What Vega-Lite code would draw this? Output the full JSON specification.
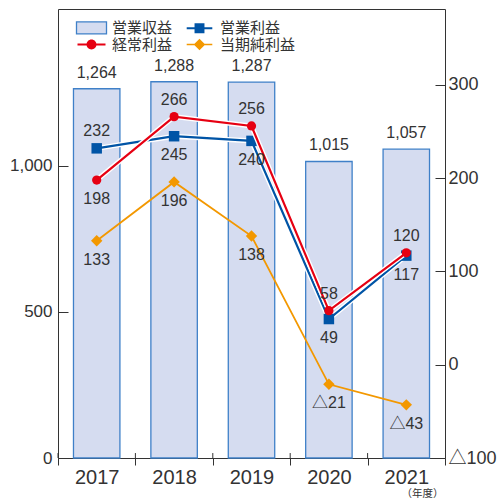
{
  "$schema": "https://vega.github.io/schema/vega-lite/v6.json",
  "width": 387,
  "height": 449,
  "autosize": {"type": "none"},
  "padding": {"left": 58, "top": 9, "right": 54, "bottom": 40},
  "config": {
    "view": {"stroke": "#333333", "strokeWidth": 1},
    "font": "Liberation Sans, Noto Sans CJK JP, sans-serif",
    "axis": {"grid": false, "domain": false, "labelColor": "#333333", "tickColor": "#333333", "title": null}
  },
  "data": {
    "values": [
      {"year": "2017", "series": "営業収益", "value": 1264},
      {"year": "2018", "series": "営業収益", "value": 1288},
      {"year": "2019", "series": "営業収益", "value": 1287},
      {"year": "2020", "series": "営業収益", "value": 1015},
      {"year": "2021", "series": "営業収益", "value": 1057},
      {"year": "2017", "series": "営業利益", "value": 232},
      {"year": "2018", "series": "営業利益", "value": 245},
      {"year": "2019", "series": "営業利益", "value": 240},
      {"year": "2020", "series": "営業利益", "value": 49},
      {"year": "2021", "series": "営業利益", "value": 117},
      {"year": "2017", "series": "経常利益", "value": 198},
      {"year": "2018", "series": "経常利益", "value": 266},
      {"year": "2019", "series": "経常利益", "value": 256},
      {"year": "2020", "series": "経常利益", "value": 58},
      {"year": "2021", "series": "経常利益", "value": 120},
      {"year": "2017", "series": "当期純利益", "value": 133},
      {"year": "2018", "series": "当期純利益", "value": 196},
      {"year": "2019", "series": "当期純利益", "value": 138},
      {"year": "2020", "series": "当期純利益", "value": -21},
      {"year": "2021", "series": "当期純利益", "value": -43}
    ]
  },
  "transform": [
    {"calculate": "datum.value < 0 ? '△' + abs(datum.value) : format(datum.value, ',d')", "as": "label"}
  ],
  "encoding": {
    "x": {
      "field": "year",
      "type": "ordinal",
      "scale": {"paddingInner": 0, "paddingOuter": 0},
      "axis": {
        "title": "（年度）",
        "titleFont": "Noto Sans CJK JP",
        "titleFontSize": 10.5,
        "titleFontWeight": "normal",
        "titleColor": "#333333",
        "titleAnchor": "end",
        "titleBaseline": "middle",
        "titleY": 35,
        "titleX": 385,
        "labelFontSize": 20,
        "labelPadding": 2,
        "labelAngle": 0,
        "tickBand": "extent",
        "tickSize": 7
      }
    }
  },
  "layer": [
    {
      "transform": [{"filter": "datum.series == '営業収益'"}],
      "encoding": {
        "y": {
          "field": "value",
          "type": "quantitative",
          "scale": {"domain": [0, 1537], "nice": false, "zero": true},
          "axis": {
            "orient": "left",
            "values": [0, 500, 1000],
            "format": ",d",
            "labelFontSize": 17,
            "tickSize": -10,
            "labelPadding": 16
          }
        }
      },
      "layer": [
        {
          "mark": {"type": "bar", "width": {"band": 0.6}, "stroke": "#3f80c8", "strokeWidth": 1.3},
          "encoding": {
            "color": {
              "field": "series",
              "type": "nominal",
              "scale": {
                "domain": ["営業収益", "営業利益", "経常利益", "当期純利益"],
                "range": ["#d5dcf0", "#0054a6", "#e60012", "#f39800"]
              },
              "legend": {
                "orient": "none",
                "direction": "horizontal",
                "legendX": 26,
                "legendY": 11,
                "columns": 2,
                "title": null,
                "padding": 0,
                "symbolSize": 256,
                "labelOffset": 13,
                "columnPadding": 13,
                "rowPadding": 0,
                "labelFont": "Noto Sans CJK JP",
                "labelFontSize": 15,
                "labelColor": "#333333",
                "encoding": {
                  "symbols": {
                    "shape": {"value": {"expr": "datum.value == '営業収益' ? 'M-1.875,-0.75H1.875V0.75H-1.875Z' : datum.value == '営業利益' ? 'M-1.6,-0.13H1.6V0.13H-1.6Z M-0.62,-0.62H0.62V0.62H-0.62Z' : datum.value == '経常利益' ? 'M-1.75,-0.13H1.75V0.13H-1.75Z M0.62,0 A0.62,0.62 0 1,1 -0.62,0 A0.62,0.62 0 1,1 0.62,0Z' : 'M-1.6,-0.1H1.6V0.1H-1.6Z M0,-0.72L0.72,0L0,0.72L-0.72,0Z'"}},
                    "fill": {"value": {"expr": "scale('color', datum.value)"}},
                    "stroke": {"value": {"expr": "datum.value == '営業収益' ? '#3f80c8' : scale('color', datum.value)"}},
                    "strokeWidth": {"value": {"expr": "datum.value == '営業収益' ? 1.3 : 0"}},
                    "size": {"value": 256},
                    "opacity": {"value": 1}
                  }
                }
              }
            }
          }
        },
        {
          "mark": {"type": "text", "baseline": "bottom", "dy": -8, "fontSize": 16, "color": "#333333"},
          "encoding": {"text": {"field": "label"}}
        },
        {
          "mark": {"type": "rule", "color": "#333333", "strokeWidth": 1},
          "encoding": {
            "x": {"field": "year", "type": "ordinal", "bandPosition": 0},
            "y": {"datum": 0},
            "y2": {"datum": 17}
          }
        }
      ]
    },
    {
      "encoding": {
        "y": {
          "field": "value",
          "type": "quantitative",
          "scale": {"domain": [-100, 381.4], "nice": false, "zero": false},
          "axis": {
            "orient": "right",
            "values": [-100, 0, 100, 200, 300],
            "labelExpr": "datum.value < 0 ? '△' + abs(datum.value) : datum.label",
            "labelFontSize": 18,
            "tickSize": -10,
            "labelPadding": 13
          }
        }
      },
      "layer": [
        {
          "transform": [{"filter": "datum.series == '当期純利益'"}],
          "mark": {"type": "line", "color": "#f39800", "strokeWidth": 1.8},
          "encoding": {}
        },
        {
          "transform": [{"filter": "datum.series == '当期純利益'"}],
          "mark": {"type": "point", "shape": "diamond", "filled": true, "color": "#f39800", "size": 130, "opacity": 1},
          "encoding": {}
        },
        {
          "transform": [{"filter": "datum.series == '営業利益'"}],
          "mark": {"type": "line", "color": "white", "strokeWidth": 5},
          "encoding": {}
        },
        {
          "transform": [{"filter": "datum.series == '営業利益'"}],
          "mark": {"type": "line", "color": "#0054a6", "strokeWidth": 2.2},
          "encoding": {}
        },
        {
          "transform": [{"filter": "datum.series == '営業利益'"}],
          "mark": {"type": "point", "shape": "square", "filled": true, "color": "#0054a6", "size": 110, "opacity": 1},
          "encoding": {}
        },
        {
          "transform": [{"filter": "datum.series == '経常利益'"}],
          "mark": {"type": "line", "color": "white", "strokeWidth": 5},
          "encoding": {}
        },
        {
          "transform": [{"filter": "datum.series == '経常利益'"}],
          "mark": {"type": "line", "color": "#e60012", "strokeWidth": 2.2},
          "encoding": {}
        },
        {
          "transform": [{"filter": "datum.series == '経常利益'"}],
          "mark": {"type": "point", "shape": "circle", "filled": true, "color": "#e60012", "size": 85, "opacity": 1},
          "encoding": {}
        },
        {
          "transform": [{"filter": "datum.series == '営業利益' && datum.year == '2017'"}],
          "mark": {"type": "text", "baseline": "middle", "dy": -17, "fontSize": 16, "color": "#333333"},
          "encoding": {"text": {"field": "label"}}
        },
        {
          "transform": [{"filter": "datum.series == '営業利益' && datum.year != '2017'"}],
          "mark": {"type": "text", "baseline": "middle", "dy": 19, "fontSize": 16, "color": "#333333"},
          "encoding": {"text": {"field": "label"}}
        },
        {
          "transform": [{"filter": "datum.series == '経常利益' && datum.year == '2017'"}],
          "mark": {"type": "text", "baseline": "middle", "dy": 19, "fontSize": 16, "color": "#333333"},
          "encoding": {"text": {"field": "label"}}
        },
        {
          "transform": [{"filter": "datum.series == '経常利益' && datum.year != '2017'"}],
          "mark": {"type": "text", "baseline": "middle", "dy": -17, "fontSize": 16, "color": "#333333"},
          "encoding": {"text": {"field": "label"}}
        },
        {
          "transform": [{"filter": "datum.series == '当期純利益'"}],
          "mark": {"type": "text", "baseline": "middle", "dy": 19, "fontSize": 16, "color": "#333333"},
          "encoding": {"text": {"field": "label"}}
        }
      ]
    }
  ],
  "resolve": {"scale": {"y": "independent"}}
}
